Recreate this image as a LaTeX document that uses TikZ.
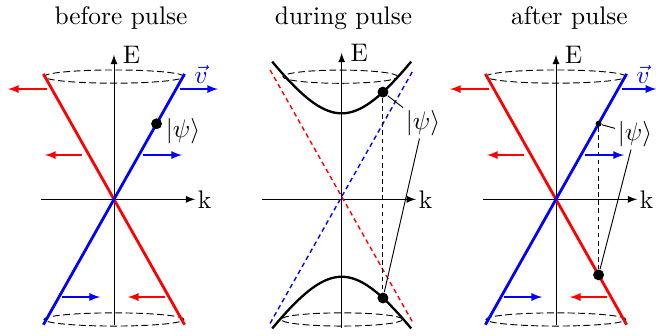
\documentclass[11pt,tikz,border=0pt]{standalone}
\begin{document}
\begin{tikzpicture}[>=latex,
    cone/.style={line width=1.2pt},
    band/.style={line width=1pt},
    guide/.style={semithick,dash pattern=on 2pt off 1.5pt},
    drop/.style={dash pattern=on 2pt off 1.5pt},
    rim/.style={dash pattern=on 3pt off 1.5pt},
    dot/.style={circle,fill,inner sep=0pt,minimum size=4.7pt},
    smalldot/.style={circle,fill,inner sep=0pt,minimum size=2.6pt},
    state/.style={inner sep=1pt},
    move/.style={->,semithick}]
    \useasboundingbox (-1.727,-2.056) rectangle (8.212,3.020);

    % before pulse
    \node[anchor=base] (t1) at (0.106,2.65) {before pulse};
    \draw[->] (0,-1.91) -- (0,2.19) node[right] (E1) {E};
    \draw[->] (-1.1,0) -- (1.23,0) node[right,inner sep=1pt] (k1) {k};
    \draw[rim] (0,1.86) ellipse (1.06 and 0.1);
    \draw[rim] (0,-1.82) ellipse (1.06 and 0.1);
    \draw[cone,red] (-1.07,1.9) -- (1.07,-1.9);
    \draw[cone,blue] (-1.07,-1.9) -- (1.07,1.9) node[right] (v1) {$\vec{v}$};
    \draw[move,red] (-1.015,1.671) -- (-1.606,1.671);
    \draw[move,blue] (1.0,1.671) -- (1.576,1.671);
    \draw[move,red] (-0.485,0.671) -- (-1.045,0.671);
    \draw[move,blue] (0.44,0.671) -- (1.03,0.671);
    \draw[move,blue] (-0.79,-1.48) -- (-0.21,-1.48);
    \draw[move,red] (0.77,-1.48) -- (0.21,-1.48);
    \node[dot] (p1) at (0.645,1.145) {};
    \node[state] (psi1) at (1.045,1.035) {$|\psi\rangle$};

    % during pulse
    \begin{scope}[xshift=3.45cm]
    \node[anchor=base] (t2) at (0.027,2.65) {during pulse};
    \draw[->] (0,-1.95) -- (0,2.22) node[right] (E2) {E};
    \draw[->] (-1.21,0) -- (1.126,0) node[right,inner sep=1pt] (k2) {k};
    \draw[rim] (-0.02,1.858) ellipse (0.87 and 0.1);
    \draw[rim] (0,-1.82) ellipse (0.92 and 0.1);
    \draw[guide,red] (-1.085,1.96) -- (1.085,-1.88);
    \draw[guide,blue] (-1.085,-1.88) -- (1.085,1.96);
    \draw[band,domain=-1.053:1.053,samples=60] plot (\x,{0.065+sqrt(1.5326+(1.518*\x)^2)});
    \draw[band,domain=-1.053:1.053,samples=60] plot (\x,{0.065-sqrt(1.5326+(1.518*\x)^2)});
    \node[dot] (u2) at (0.625,1.625) {};
    \node[dot] (l2) at (0.625,-1.495) {};
    \draw[drop] (u2) -- (l2);
    \node[state] (psi2) at (1.232,1.156) {$|\psi\rangle$};
    \draw (u2) -- (psi2);
    \draw (l2) -- (psi2);
    \end{scope}

    % after pulse
    \begin{scope}[xshift=6.697cm]
    \node[anchor=base] (t3) at (0.203,2.65) {after pulse};
    \draw[->] (0,-1.91) -- (0,2.19) node[right] (E3) {E};
    \draw[->] (-1.1,0) -- (1.23,0) node[right,inner sep=1pt] (k3) {k};
    \draw[rim] (0,1.86) ellipse (1.06 and 0.1);
    \draw[rim] (0,-1.82) ellipse (1.06 and 0.1);
    \draw[cone,red] (-1.07,1.9) -- (1.07,-1.9);
    \draw[cone,blue] (-1.07,-1.9) -- (1.07,1.9) node[right] (v3) {$\vec{v}$};
    \draw[move,red] (-1.015,1.671) -- (-1.606,1.671);
    \draw[move,blue] (1.0,1.671) -- (1.52,1.671);
    \draw[move,red] (-0.485,0.671) -- (-1.045,0.671);
    \draw[move,blue] (0.44,0.671) -- (1.03,0.671);
    \draw[move,blue] (-0.79,-1.48) -- (-0.21,-1.48);
    \draw[move,red] (0.77,-1.48) -- (0.21,-1.48);
    \node[smalldot] (s3) at (0.645,1.145) {};
    \node[dot] (b3) at (0.645,-1.145) {};
    \draw[drop] (s3) -- (b3);
    \node[state] (psi3) at (1.197,0.989) {$|\psi\rangle$};
    \draw (s3) -- (psi3);
    \draw (b3) -- (psi3);
    \end{scope}
\end{tikzpicture}
\end{document}
